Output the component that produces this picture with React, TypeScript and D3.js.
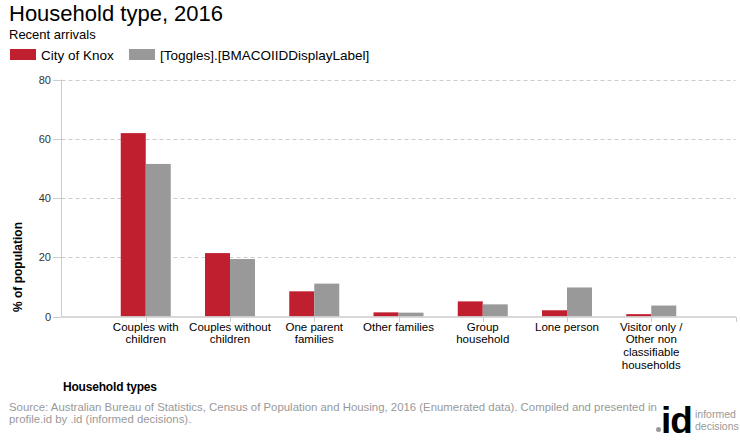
import React from "react";
import * as d3 from "d3";

const categories: string[][] = [
  ["Couples with", "children"],
  ["Couples without", "children"],
  ["One parent", "families"],
  ["Other families"],
  ["Group", "household"],
  ["Lone person"],
  ["Visitor only /", "Other non", "classifiable", "households"],
];
const knox: number[] = [61.9, 21.4, 8.5, 1.4, 5.1, 2.1, 0.8];
const comparison: number[] = [51.5, 19.4, 11.1, 1.3, 4.1, 9.8, 3.7];
const yTicks: number[] = [0, 20, 40, 60, 80];

const RED = "#C01F2F";
const GREY = "#999999";
const FONT = "'Liberation Sans', Arial, sans-serif";

export default function App() {
  const x = d3.scaleLinear().domain([0, categories.length + 1]).range([61.5, 735.5]);
  const y = d3.scaleLinear().domain([0, 80]).range([316.5, 79.5]);
  const bw = 25;

  return (
    <svg width={740} height={440} style={{ position: "absolute", left: 0, top: 0 }} fontFamily={FONT}>
      <rect width={740} height={440} fill="#fff" />
      <text x={9} y={21} fontSize={22} fill="#000">Household type, 2016</text>
      <text x={9} y={39} fontSize={13} fill="#000">Recent arrivals</text>
      <rect x={10} y={49} width={26} height={11} fill={RED} />
      <text x={41} y={59.5} fontSize={13.5} fill="#000">City of Knox</text>
      <rect x={129} y={49} width={26} height={11} fill={GREY} />
      <text x={160} y={59.5} fontSize={13.5} fill="#000">[Toggles].[BMACOIIDDisplayLabel]</text>

      {yTicks.map((t) => (
        <g key={t}>
          {t > 0 && (
            <line x1={61.5} x2={735.5} y1={Math.round(y(t)) + 0.5} y2={Math.round(y(t)) + 0.5} stroke="#ccc" strokeDasharray="4,3" />
          )}
          <line x1={53} x2={61.5} y1={Math.round(y(t)) + 0.5} y2={Math.round(y(t)) + 0.5} stroke="#ccc" />
          <text x={51} y={y(t) + 4} fontSize={11} fill="#333" textAnchor="end">{t}</text>
        </g>
      ))}
      <line x1={61.5} x2={61.5} y1={79.5} y2={317} stroke="#ccc" />

      {categories.map((c, i) => {
        const cx = x(i + 1);
        return (
          <g key={i}>
            <rect x={cx - bw} y={y(knox[i])} width={bw} height={y(0) - y(knox[i])} fill={RED} />
            <rect x={cx} y={y(comparison[i])} width={bw} height={y(0) - y(comparison[i])} fill={GREY} />
          </g>
        );
      })}

      <line x1={61.5} x2={736} y1={317} y2={317} stroke="#ccc" strokeWidth={1.5} />
      {d3.range(1, categories.length + 2).map((k) => (
        <line key={k} x1={Math.round(x(k)) + 0.5} x2={Math.round(x(k)) + 0.5} y1={317} y2={322} stroke="#ccc" />
      ))}
      {categories.map((c, i) => (
        <text key={i} x={x(i + 1)} fontSize={11.5} fill="#000" textAnchor="middle">
          {c.map((l, j) => (
            <tspan key={j} x={x(i + 1)} y={330.5 + j * 12.7}>{l}</tspan>
          ))}
        </text>
      ))}

      <text transform="translate(22,267) rotate(-90)" fontSize={12} fontWeight="bold" textAnchor="middle" fill="#000">% of population</text>
      <text x={63} y={391} fontSize={12} fontWeight="bold" fill="#000" textLength={94}>Household types</text>

      <text x={9} y={411} fontSize={11.4} fill="#999">Source: Australian Bureau of Statistics, Census of Population and Housing, 2016 (Enumerated data). Compiled and presented in</text>
      <text x={9} y={423} fontSize={11.4} fill="#999">profile.id by .id (informed decisions).</text>

      <circle cx={658.5} cy={429.5} r={2.5} fill="#999" />
      <text x={661} y={433} fontSize={37} fontWeight="bold" fill="#000" letterSpacing={-1}>id</text>
      <text x={695} y={418} fontSize={10.5} fill="#999">informed</text>
      <text x={695} y={430} fontSize={10.5} fill="#999">decisions</text>
    </svg>
  );
}
